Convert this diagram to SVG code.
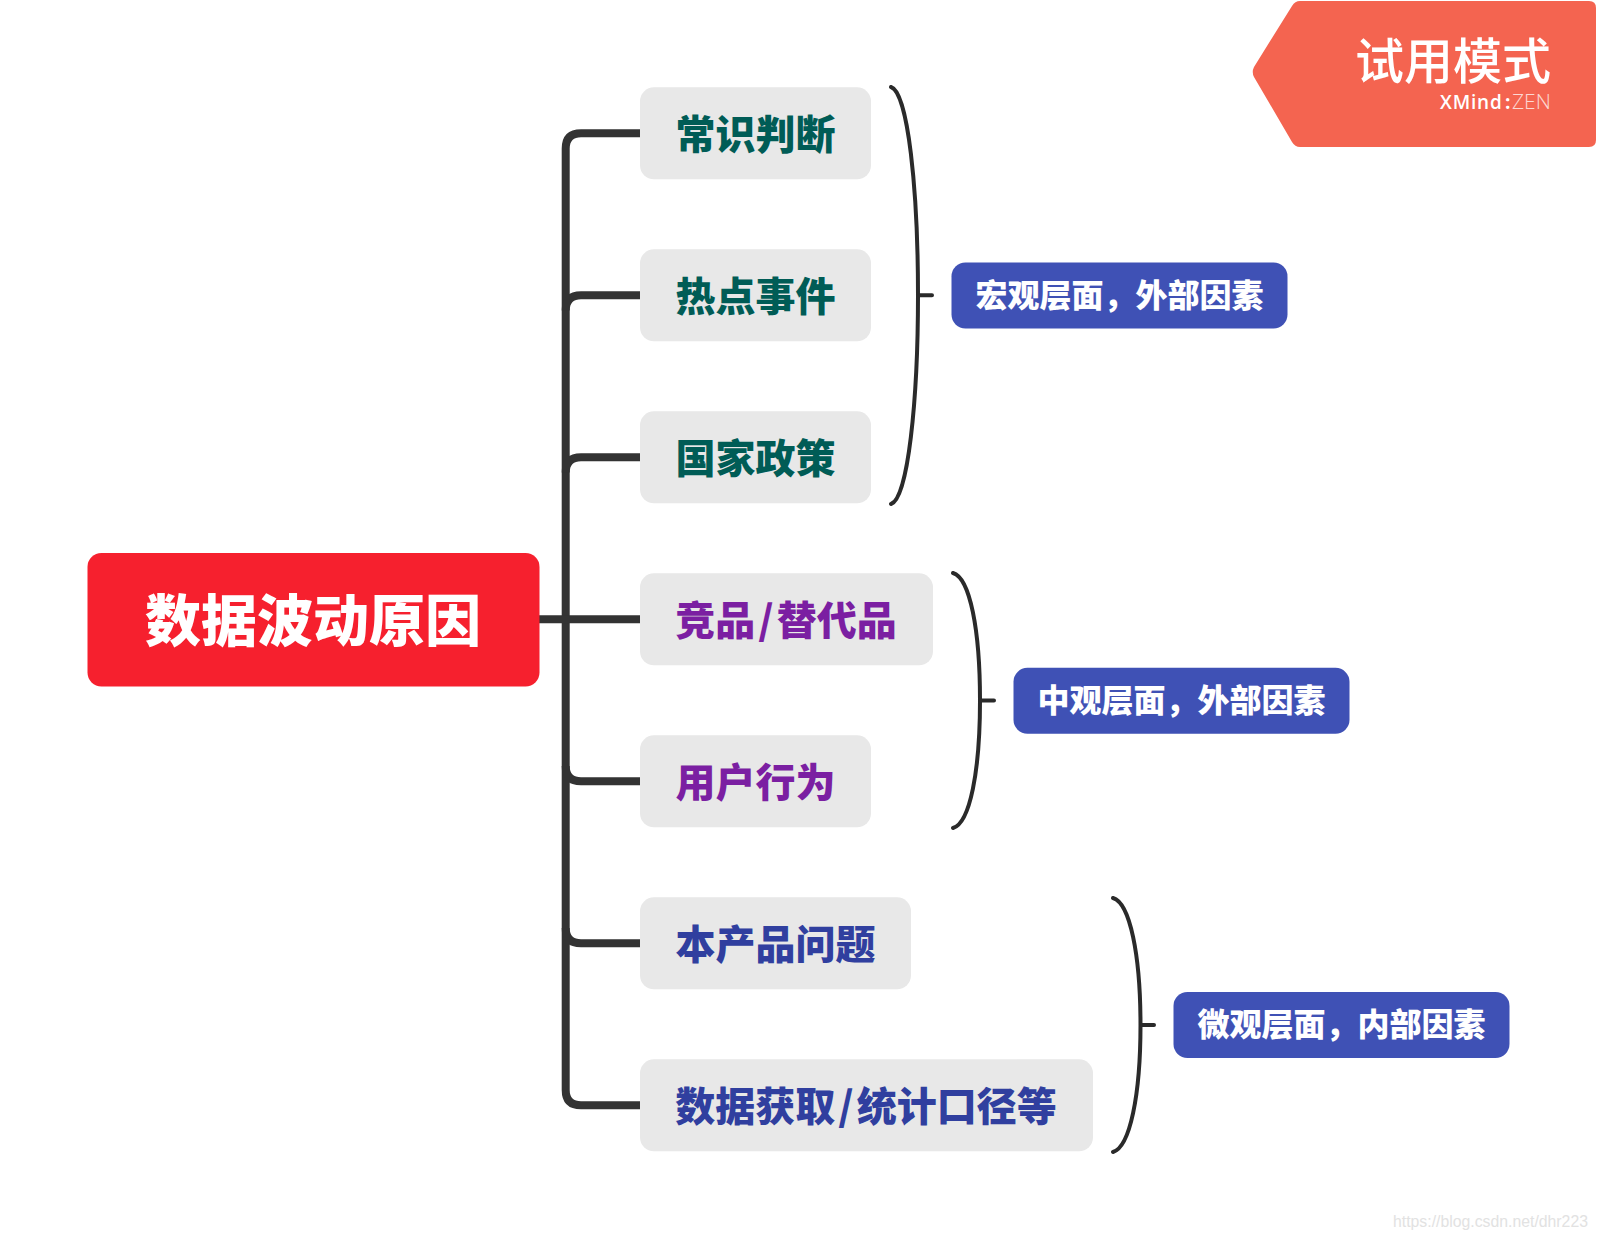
<svg xmlns="http://www.w3.org/2000/svg" width="1597" height="1239" viewBox="0 0 1597 1239">
<style>
text{font-family:"Noto Sans CJK SC","Noto Sans",sans-serif}
.t{fill:#e8e8e8}
.n{font-size:40px;font-weight:900}
.g{fill:#005c56}.p{fill:#7b1fa2}.b{fill:#303f9f}
.l{fill:#3f51b5}
.lt{font-size:32px;font-weight:900;fill:#fff}
.tr{fill:none;stroke:#333;stroke-width:8}
.br{fill:none;stroke:#2a2a2a;stroke-width:4;stroke-linecap:round}
.x{font-family:"Open Sans",sans-serif;font-size:19px;fill:#fff}
</style>
<rect width="1597" height="1239" fill="#fff"/>
<g id="connectors">
<path class="tr" d="M640 133.3H581Q565.7 133.3 565.700 148.600V1090Q565.700 1105.300 581 1105.300H640"/>
<path class="tr" d="M640 295.3H581Q565.7 295.3 565.700 310.600"/>
<path class="tr" d="M640 457.3H581Q565.7 457.3 565.700 472.600"/>
<path class="tr" d="M539 619.3H640"/>
<path class="tr" d="M640 781.3H581Q565.7 781.3 565.700 766"/>
<path class="tr" d="M640 943.3H581Q565.7 943.3 565.700 928"/>
<path class="br" d="M891 87C908 92 918 190 918 295C918 400 908 499 891 504M918 295.3H932"/>
<path class="br" d="M953 573C970 578 980 630 980 700.5C980 771 970 823 953 828M980 700.5H994"/>
<path class="br" d="M1113 898C1130 903 1140.500 955 1140.500 1025C1140.500 1095 1130 1147 1113 1152M1140.500 1025H1154"/>
</g>
<g id="root"><rect x="87.500" y="553" width="452" height="133.500" rx="14" fill="#f6202e"/><text x="313" y="641" text-anchor="middle" font-size="56" font-weight="900" fill="#fff">数据波动原因</text></g>
<g id="n1"><rect class="t" x="640" y="87.300" width="231" height="92" rx="14"/><text class="n g" x="755.500" y="149" text-anchor="middle">常识判断</text></g>
<g id="n2"><rect class="t" x="640" y="249.300" width="231" height="92" rx="14"/><text class="n g" x="755.500" y="311" text-anchor="middle">热点事件</text></g>
<g id="n3"><rect class="t" x="640" y="411.300" width="231" height="92" rx="14"/><text class="n g" x="755.500" y="473" text-anchor="middle">国家政策</text></g>
<g id="n4"><rect class="t" x="640" y="573.300" width="293" height="92" rx="14"/><text class="n p" x="786" y="635" text-anchor="middle">竞品<tspan dx="3">/</tspan><tspan dx="3">替代品</tspan></text></g>
<g id="n5"><rect class="t" x="640" y="735.300" width="231" height="92" rx="14"/><text class="n p" x="755.500" y="797" text-anchor="middle">用户行为</text></g>
<g id="n6"><rect class="t" x="640" y="897.300" width="271" height="92" rx="14"/><text class="n b" x="775.500" y="959" text-anchor="middle">本产品问题</text></g>
<g id="n7"><rect class="t" x="640" y="1059.300" width="453" height="92" rx="14"/><text class="n b" x="866" y="1121" text-anchor="middle">数据获取<tspan dx="3">/</tspan><tspan dx="3">统计口径等</tspan></text></g>
<g id="s1"><rect class="l" x="951.500" y="262.500" width="336" height="66" rx="14"/><text class="lt" x="1119.500" y="307" text-anchor="middle">宏观层面，外部因素</text></g>
<g id="s2"><rect class="l" x="1013.500" y="667.800" width="336" height="66" rx="14"/><text class="lt" x="1181.500" y="712" text-anchor="middle">中观层面，外部因素</text></g>
<g id="s3"><rect class="l" x="1173.500" y="992" width="336" height="66" rx="14"/><text class="lt" x="1341.500" y="1036" text-anchor="middle">微观层面，内部因素</text></g>
<g id="tag"><path d="M1300 1H1589Q1596 1 1596 8V140Q1596 147 1589 147H1300Q1295 147 1292 142L1254 77Q1251.500 72 1254 67L1292 6Q1295 1 1300 1Z" fill="#f46450"/>
<text x="1551" y="79" text-anchor="end" font-size="49" font-weight="500" fill="#fff">试用模式</text>
<text class="x" x="1440" y="109" font-weight="600" letter-spacing=".8">XMind</text>
<text class="x" x="1505" y="109" font-weight="700">:</text>
<text class="x" x="1512" y="109" font-weight="300" fill-opacity=".75" style="font-size:21px">ZEN</text></g>
<text x="1393" y="1227" font-size="15.800" fill="#e2e2e2" style="font-family:'Liberation Sans',sans-serif">https://blog.csdn.net/dhr223</text>
</svg>
